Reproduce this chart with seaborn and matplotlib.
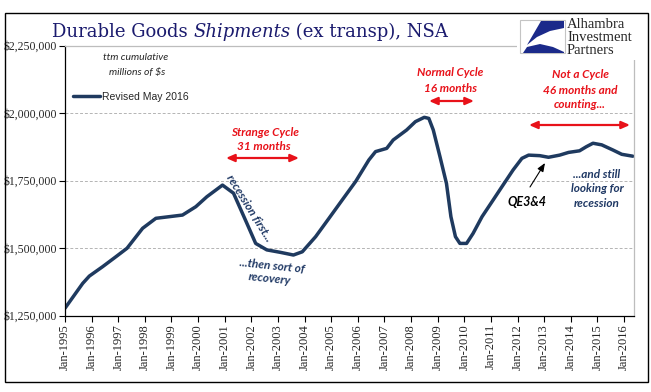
import numpy as np
import pandas as pd
import matplotlib
matplotlib.use('Agg')
import matplotlib.pyplot as plt
import matplotlib.dates as mdates
from matplotlib.ticker import MultipleLocator, FuncFormatter
from matplotlib.patches import Rectangle, Polygon
import seaborn as sns

# ttm cumulative durable goods shipments ex transp, millions of $
months = ['1995-01', '1995-09', '1995-12', '1996-06', '1996-12', '1997-05', '1997-12',
          '1998-06', '1998-12', '1999-06', '1999-12', '2000-05', '2000-12', '2001-05',
          '2001-11', '2002-03', '2002-08', '2003-02', '2003-08', '2003-12', '2004-06',
          '2004-12', '2005-06', '2005-12', '2006-06', '2006-09', '2007-02', '2007-05',
          '2007-11', '2008-03', '2008-07', '2008-09', '2008-11', '2009-02', '2009-05',
          '2009-07', '2009-09', '2009-11', '2010-02', '2010-05', '2010-09', '2011-02',
          '2011-06', '2011-11', '2012-03', '2012-06', '2012-11', '2013-03', '2013-08',
          '2013-12', '2014-05', '2014-08', '2014-11', '2015-03', '2015-08', '2015-12',
          '2016-05']
shipments = [1277000, 1369000, 1396000, 1431000, 1468000, 1499000, 1573000,
             1610000, 1616000, 1622000, 1653000, 1690000, 1733000, 1703000,
             1591000, 1517000, 1493000, 1484000, 1474000, 1486000, 1542000,
             1610000, 1678000, 1746000, 1826000, 1857000, 1869000, 1900000,
             1937000, 1968000, 1984000, 1980000, 1937000, 1838000, 1739000,
             1616000, 1542000, 1517000, 1517000, 1554000, 1616000, 1678000,
             1727000, 1789000, 1832000, 1844000, 1842000, 1836000, 1844000,
             1854000, 1860000, 1875000, 1888000, 1882000, 1863000, 1847000,
             1840000]

df = pd.DataFrame({'month': pd.to_datetime(months), 'shipments': shipments})

NAVY = '#1f3a5f'
RED = '#e8121a'
TXT_NAVY = '#1f3864'

sns.set_style('ticks')
plt.rcParams['font.family'] = ['Liberation Serif', 'DejaVu Sans']

W, H = 651, 392


def fx(x):
    return x / W


def fy(y):
    return 1 - y / H


fig = plt.figure(figsize=(W / 100, H / 100), dpi=100)
ax = fig.add_axes([fx(65), fy(315.5), fx(634) - fx(65), fy(45.5) - fy(315.5)])

sns.lineplot(data=df, x='month', y='shipments', ax=ax, color=NAVY, lw=2.5,
             label='Revised May 2016')

ax.set_xlim(pd.Timestamp('1995-01-01'), pd.Timestamp('2016-05-17'))
ax.set_ylim(1250000, 2250000)
ax.yaxis.set_major_locator(MultipleLocator(250000))
ax.yaxis.set_major_formatter(FuncFormatter(lambda v, p: f'${v:,.0f}'))
ax.xaxis.set_major_locator(mdates.YearLocator())
ax.xaxis.set_major_formatter(mdates.DateFormatter('Jan-%Y'))
plt.setp(ax.get_xticklabels(), rotation=90)
ax.tick_params(labelsize=8.5, length=4, width=0.8, color='black', pad=2)
ax.tick_params(axis='x', labelsize=9)
ax.set_xlabel('')
ax.set_ylabel('')
ax.grid(axis='y', ls=(0, (3, 2)), color='#b4b4b4', lw=0.7)
for s in ['left', 'bottom']:
    ax.spines[s].set_color('black')
    ax.spines[s].set_linewidth(0.9)
for s in ['top', 'right']:
    ax.spines[s].set_visible(True)
    ax.spines[s].set_color('#bdbdbd')
    ax.spines[s].set_linewidth(0.9)

ax.legend(loc='center left', bbox_to_anchor=(fx(73), fy(97)), bbox_transform=fig.transFigure,
          frameon=False, prop={'family': 'Liberation Sans', 'size': 7.5},
          handlelength=2.6, handletextpad=0.15, borderpad=0, borderaxespad=0)

# outer frame
fig.add_artist(Rectangle((fx(5), fy(382)), fx(648) - fx(5), fy(13) - fy(382),
                         transform=fig.transFigure, fill=False, ec='black', lw=1, zorder=10))

# title, with italic middle word
renderer = fig.canvas.get_renderer()
x0 = fx(52)
for part, style in [('Durable Goods ', 'normal'), ('Shipments', 'italic'),
                    (' (ex transp), NSA', 'normal')]:
    t = fig.text(x0, fy(32), part, family='DejaVu Serif', style=style, fontsize=13,
                 color='#1b1b6e', va='center', ha='left')
    bb = t.get_window_extent(renderer)
    x0 += bb.width / fig.bbox.width

# logo corner
fig.add_artist(Rectangle((fx(517), fy(60)), fx(647) - fx(517), fy(14) - fy(60),
                         transform=fig.transFigure, fc='white', ec='none', zorder=5))
fig.add_artist(Rectangle((fx(520), fy(53)), fx(565) - fx(520), fy(20) - fy(53),
                         transform=fig.transFigure, fc='white', ec='#c4c4c4', lw=0.8, zorder=6))
LOGO = '#1b2a8a'
up = [(541, 21), (564, 21), (564, 28), (550, 31), (537, 37), (527, 45)]
lo = [(527, 47), (540, 44), (553, 47), (564, 52), (564, 53), (523, 53)]
for pts in (up, lo):
    fig.add_artist(Polygon([(fx(a), fy(b)) for a, b in pts], closed=True,
                           transform=fig.transFigure, fc=LOGO, ec='none', zorder=7))
for txt, yy in [('Alhambra', 25), ('Investment', 37.5), ('Partners', 50)]:
    fig.text(fx(567), fy(yy), txt, fontsize=10.5, color='#262626', va='center',
             ha='left', zorder=8)

# notes
fig.text(fx(136), fy(58), 'ttm cumulative', family='Lato', style='italic', fontsize=7.5,
         ha='center', va='center')
fig.text(fx(137), fy(72), 'millions of $s', family='Lato', style='italic', fontsize=7.5,
         ha='center', va='center')

red_kw = dict(family='Lato', style='italic', weight='bold', fontsize=8.5, color=RED,
              ha='center', va='center')
fig.text(fx(265), fy(133), 'Strange Cycle', **red_kw)
fig.text(fx(264), fy(147), '31 months', **red_kw)
fig.text(fx(450), fy(72), 'Normal Cycle', **red_kw)
fig.text(fx(450), fy(88), '16 months', **red_kw)
fig.text(fx(580), fy(75), 'Not a Cycle', **red_kw)
fig.text(fx(580), fy(90), '46 months and', **red_kw)
fig.text(fx(580), fy(105), 'counting...', **red_kw)

for a, b, yy in [(226, 299, 158), (429, 474, 101), (529, 630, 125)]:
    ax.annotate('', xy=(fx(a), fy(yy)), xytext=(fx(b), fy(yy)),
                xycoords='figure fraction', textcoords='figure fraction',
                arrowprops=dict(arrowstyle='<|-|>,head_length=0.5,head_width=0.22',
                                color=RED, lw=1.6, shrinkA=0, shrinkB=0))

navy_kw = dict(family='Lato', style='italic', weight='bold', fontsize=8.5, color=TXT_NAVY,
               ha='center', va='center')
fig.text(fx(249), fy(208), 'recession first...', rotation=-58, rotation_mode='anchor', **navy_kw)
fig.text(fx(272), fy(266), '...then sort of', rotation=-6, rotation_mode='anchor', **navy_kw)
fig.text(fx(270), fy(279), 'recovery', rotation=-6, rotation_mode='anchor', **navy_kw)
fig.text(fx(597), fy(174), '...and still', **navy_kw)
fig.text(fx(597), fy(188), 'looking for', **navy_kw)
fig.text(fx(597), fy(203), 'recession', **navy_kw)

fig.text(fx(527), fy(202), 'QE3&4', family='Lato', style='italic', weight='bold', fontsize=9,
         color='black', ha='center', va='center')
ax.annotate('', xy=(fx(545), fy(163)), xytext=(fx(530), fy(187)),
            xycoords='figure fraction', textcoords='figure fraction',
            arrowprops=dict(arrowstyle='-|>,head_length=0.5,head_width=0.2', color='black',
                            lw=0.8, shrinkA=0, shrinkB=0))

fig.savefig('out.png', dpi=100)
